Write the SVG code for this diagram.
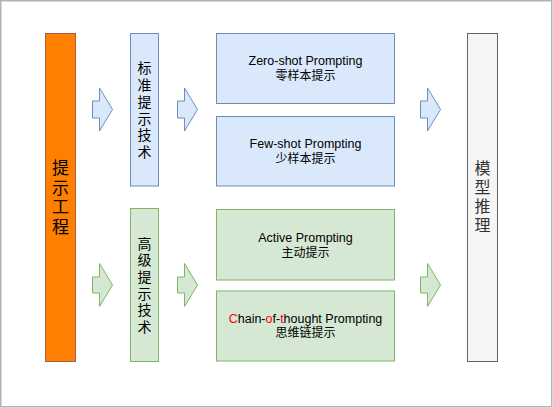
<svg xmlns="http://www.w3.org/2000/svg" width="553" height="408" viewBox="0 0 553 408">
<style>
.blue{fill:#dae8fc;stroke:#6c8ebf;stroke-width:1}
.green{fill:#d5e8d4;stroke:#82b366;stroke-width:1}
.cjk{font-family:"Noto Sans CJK SC","Noto Sans CJK TC",sans-serif;text-anchor:middle;fill:#000}
.vert{writing-mode:vertical-rl;text-orientation:upright}
.lat{font-family:"Liberation Sans",Arial,sans-serif;font-size:12.5px;text-anchor:middle;fill:#000}
.sub{font-family:"Liberation Sans","Noto Sans CJK SC",sans-serif;font-size:12px;text-anchor:middle;fill:#000}
.v14{font-size:14px;letter-spacing:2.7px}
.red{fill:#ff0000}
</style>
<rect x="0.75" y="0.75" width="551" height="406" fill="#ffffff" stroke="#b3b3b3" stroke-width="1.5"/>
<g id="connectors">
<polygon class="blue" points="92.5,101 99.5,101 99.5,88 112.5,109.5 99.5,131 99.5,118 92.5,118"/>
<polygon class="blue" points="177.5,101 184.5,101 184.5,88 197.5,109.5 184.5,131 184.5,118 177.5,118"/>
<polygon class="blue" points="420.5,101 427.5,101 427.5,88 440.5,109.5 427.5,131 427.5,118 420.5,118"/>
<polygon class="green" points="92.5,277 99.5,277 99.5,263.5 112.5,285 99.5,306.5 99.5,293 92.5,293"/>
<polygon class="green" points="177.5,277 184.5,277 184.5,263.5 197.5,285 184.5,306.5 184.5,293 177.5,293"/>
<polygon class="green" points="420.5,277 427.5,277 427.5,263.5 440.5,285 427.5,306.5 427.5,293 420.5,293"/>
</g>
<g id="prompt-engineering">
<rect x="45.5" y="33.5" width="30" height="328" fill="#ff8000" stroke="#a5604a" stroke-width="1"/>
<text class="cjk vert" x="60.5" y="198.5" font-size="17" letter-spacing="2.5">提示工程</text>
</g>
<g id="standard">
<rect class="blue" x="130.5" y="33.5" width="28" height="152.5"/>
<text class="cjk vert v14" x="144.5" y="111.2">标准提示技术</text>
</g>
<g id="advanced">
<rect class="green" x="130.5" y="208.5" width="28" height="153"/>
<text class="cjk vert v14" x="144.5" y="286.4">高级提示技术</text>
</g>
<g id="zero-shot">
<rect class="blue" x="216.5" y="33.5" width="178" height="70"/>
<text class="lat" x="305.5" y="65">Zero-shot Prompting</text>
<text class="sub" x="305.5" y="79.5">零样本提示</text>
</g>
<g id="few-shot">
<rect class="blue" x="216.5" y="116.5" width="178" height="69.5"/>
<text class="lat" x="305.5" y="148.2">Few-shot Prompting</text>
<text class="sub" x="305.5" y="162.7">少样本提示</text>
</g>
<g id="active">
<rect class="green" x="216.5" y="209.5" width="178" height="70.5"/>
<text class="lat" x="305.5" y="242">Active Prompting</text>
<text class="sub" x="305.5" y="256.5">主动提示</text>
</g>
<g id="chain-of-thought">
<rect class="green" x="216.5" y="291" width="178" height="70"/>
<text class="lat" x="305.5" y="322.5"><tspan class="red">C</tspan>hain-<tspan class="red">o</tspan>f-<tspan class="red">t</tspan>hought Prompting</text>
<text class="sub" x="305.5" y="337">思维链提示</text>
</g>
<g id="model-inference">
<rect x="467.5" y="33.5" width="30" height="328" fill="#f5f5f5" stroke="#666666" stroke-width="1"/>
<text class="cjk vert" x="482.5" y="198.2" font-size="16" letter-spacing="3" style="fill:#333333">模型推理</text>
</g>
</svg>
